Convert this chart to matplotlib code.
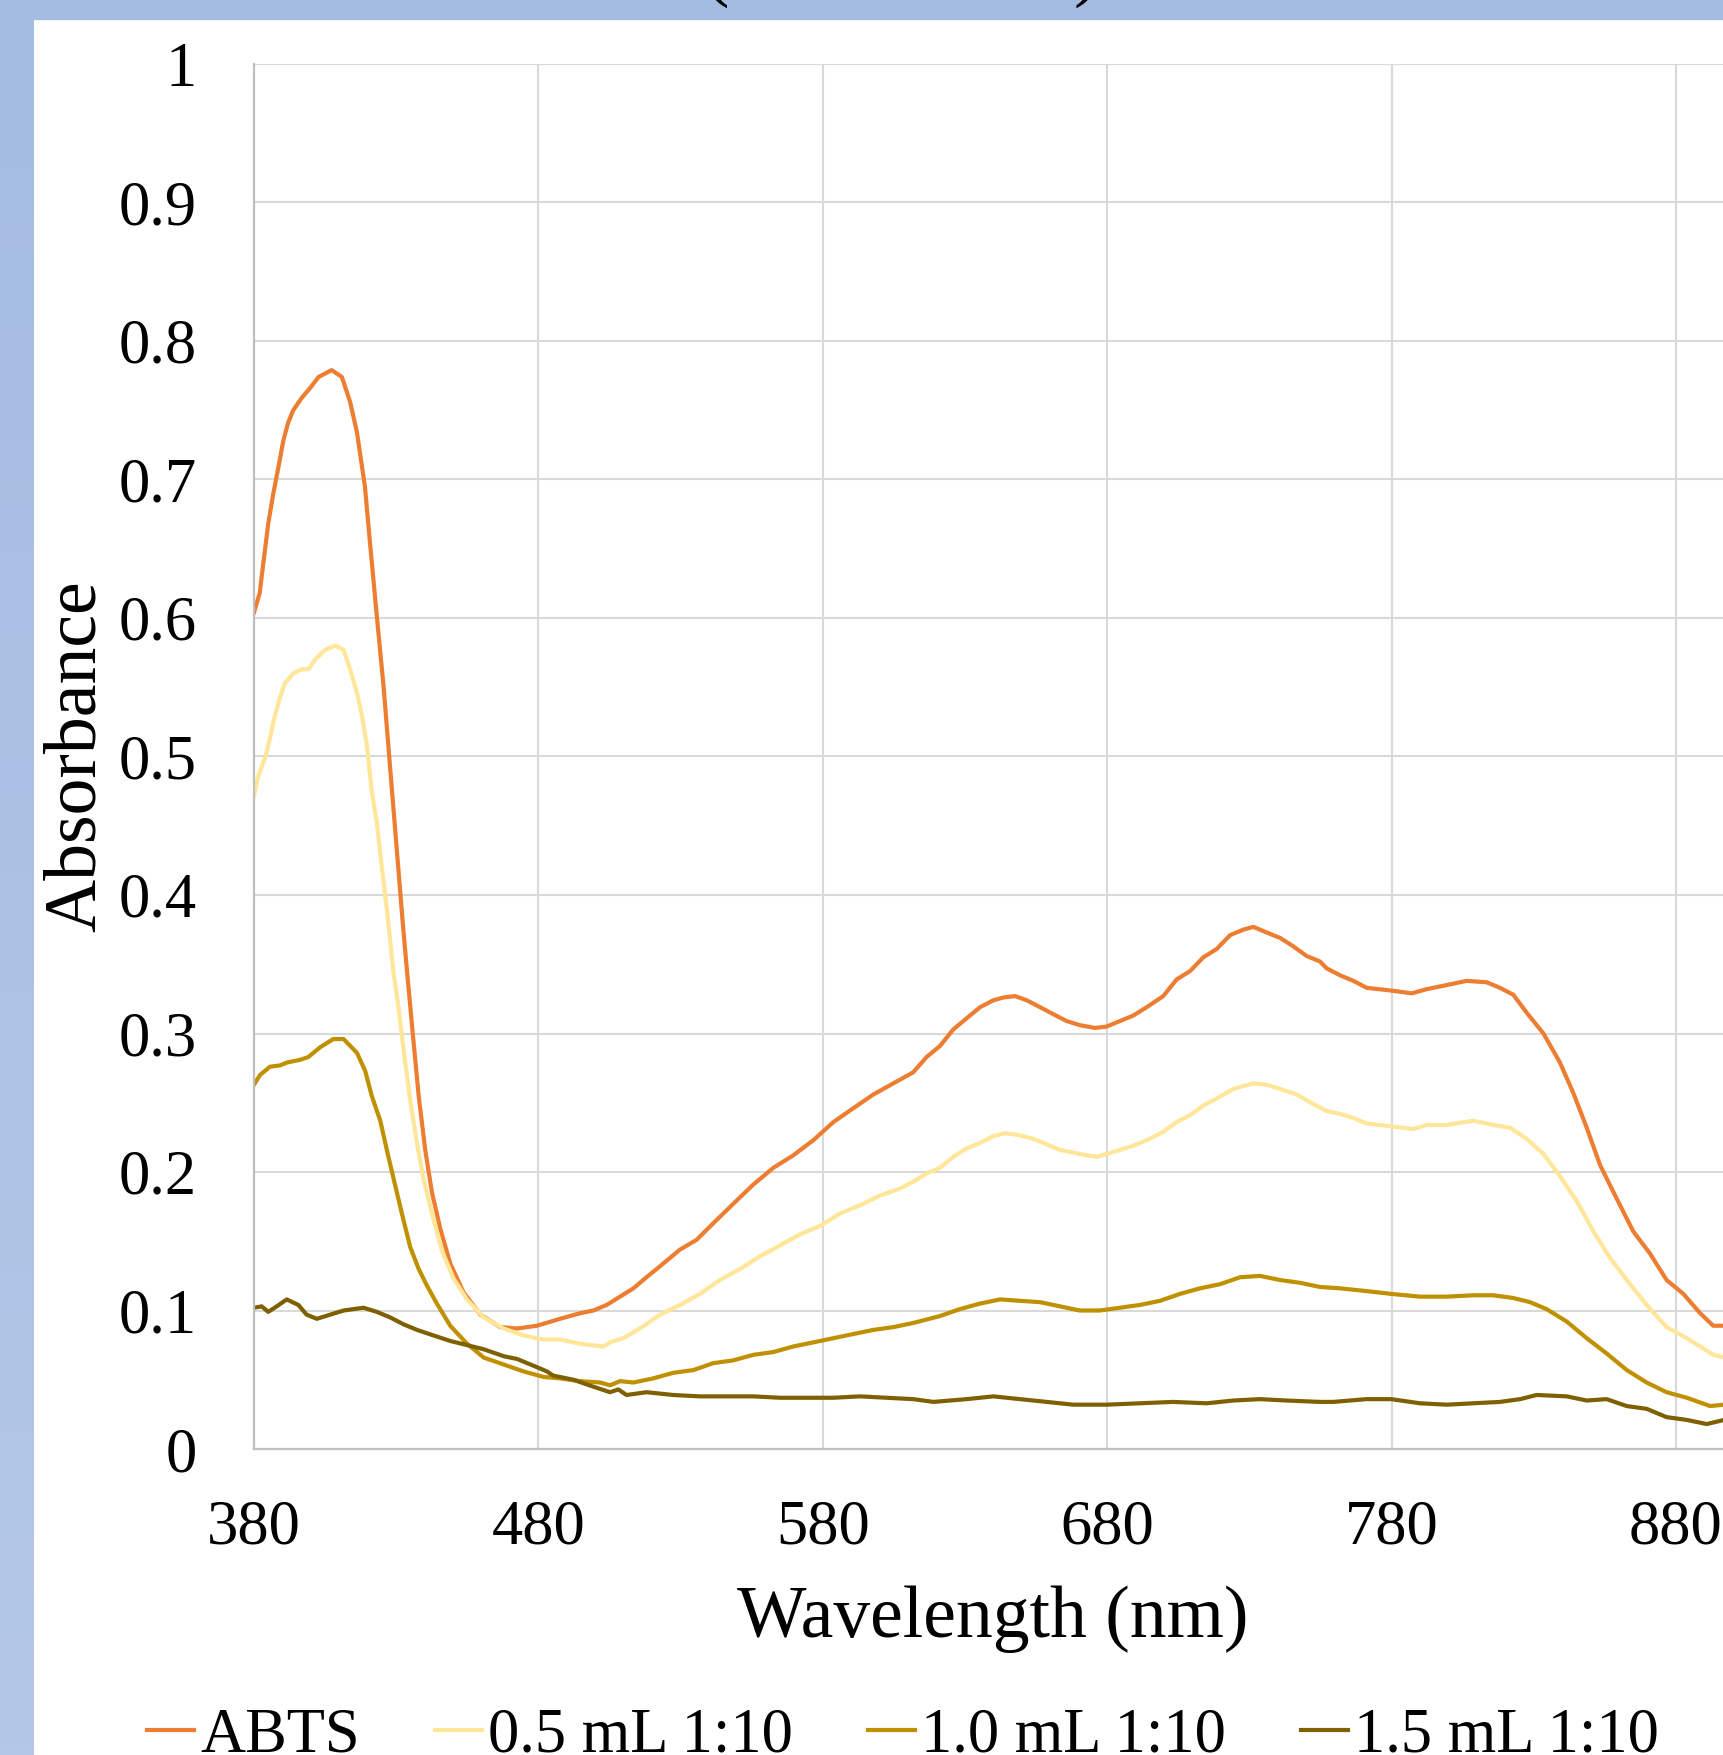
import matplotlib

matplotlib.use("Agg")

import matplotlib.pyplot as plt
import numpy as np
from matplotlib.patches import Rectangle
from matplotlib.ticker import FixedLocator, FuncFormatter, MultipleLocator


# (wavelength nm, absorbance)
abts_points = [
    (380, 0.604), (382, 0.618), (383.3, 0.640), (385, 0.668), (386.8, 0.690),
    (388.6, 0.709), (390.3, 0.728), (392, 0.741), (393.8, 0.750), (396.8, 0.759),
    (399.7, 0.766), (402.7, 0.774), (407.3, 0.779), (410.9, 0.774), (413.8, 0.756),
    (416.2, 0.734), (419, 0.695), (420.8, 0.654), (423.2, 0.601), (425.5, 0.552),
    (427.9, 0.491), (430.2, 0.433), (432.3, 0.380), (433.8, 0.345), (436.1, 0.294),
    (437.9, 0.255), (440.2, 0.216), (442.6, 0.185), (445.5, 0.159), (449, 0.134),
    (453.7, 0.113), (459.6, 0.097), (466.6, 0.088), (472.5, 0.087), (479.5, 0.089),
    (487.6, 0.094), (494.6, 0.098), (499.3, 0.100), (504, 0.104), (508.7, 0.110),
    (513.4, 0.116), (518, 0.124), (522.8, 0.132), (529.8, 0.144), (535.6, 0.151),
    (541.5, 0.163), (548.5, 0.177), (555.6, 0.191), (562.6, 0.203), (569.6, 0.212),
    (576.7, 0.223), (583.7, 0.236), (590.7, 0.246), (597.8, 0.256), (604.8, 0.264),
    (611.8, 0.272), (616.5, 0.283), (621.2, 0.291), (625.9, 0.303), (630.6, 0.311),
    (635.3, 0.319), (640, 0.324), (643.5, 0.326), (647.6, 0.327), (651.7, 0.324),
    (656.4, 0.319), (661, 0.314), (665.7, 0.309), (670.4, 0.306), (675.7, 0.304),
    (679.8, 0.305), (684.5, 0.309), (689.2, 0.313), (693.9, 0.319), (699.7, 0.327),
    (704.4, 0.339), (709.1, 0.345), (713.8, 0.355), (718.5, 0.361), (723.2, 0.371),
    (727.9, 0.375), (731.4, 0.377), (736, 0.373), (740.8, 0.369), (745.4, 0.363),
    (750.1, 0.356), (754.8, 0.352), (757.2, 0.347), (761.9, 0.342), (766.6, 0.338),
    (771.2, 0.333), (779.8, 0.331), (787.1, 0.329), (792.3, 0.332), (799.4, 0.335),
    (806.4, 0.338), (813.4, 0.337), (818.1, 0.333), (822.8, 0.328), (827.5, 0.315),
    (833.4, 0.300), (839.2, 0.279), (843.9, 0.257), (848.6, 0.232), (853.3, 0.205),
    (859.1, 0.181), (865, 0.157), (870.9, 0.141), (876.7, 0.122), (882.6, 0.112),
    (888.5, 0.098), (893.1, 0.089), (896.9, 0.089),
]

half_ml_points = [
    (380, 0.472), (381.5, 0.486), (383.9, 0.499), (385.6, 0.513), (387.4, 0.530),
    (389.2, 0.543), (390.9, 0.553), (393.8, 0.560), (396.8, 0.563), (399.1, 0.563),
    (401.5, 0.570), (405, 0.577), (408.5, 0.580), (411.5, 0.577), (413.8, 0.563),
    (416.2, 0.546), (417.9, 0.530), (419.7, 0.508), (421.4, 0.475), (423.2, 0.452),
    (425, 0.419), (426.7, 0.390), (429, 0.345), (430.8, 0.319), (432.6, 0.288),
    (434.9, 0.252), (437.3, 0.221), (439.6, 0.195), (442.6, 0.170), (446.1, 0.143),
    (450.2, 0.123), (454.9, 0.108), (460.8, 0.095), (467.8, 0.087), (474.8, 0.082),
    (481.9, 0.079), (487.6, 0.079), (494.6, 0.076), (502.8, 0.074), (505.2, 0.077),
    (509.9, 0.080), (515.7, 0.087), (522.8, 0.097), (529.8, 0.104), (536.8, 0.112),
    (543.8, 0.122), (550.9, 0.130), (557.9, 0.139), (564.9, 0.147), (572, 0.155),
    (579, 0.161), (586, 0.170), (593.1, 0.176), (600.1, 0.183), (607.1, 0.188),
    (611.8, 0.193), (616.5, 0.199), (621.2, 0.203), (625.9, 0.211), (630.6, 0.217),
    (635.3, 0.221), (640, 0.226), (644.1, 0.228), (648.2, 0.227), (654, 0.224),
    (658.7, 0.220), (663.4, 0.216), (668.1, 0.214), (672.8, 0.212), (676.3, 0.211),
    (679.8, 0.213), (684.5, 0.216), (689.2, 0.219), (693.9, 0.223), (699.7, 0.229),
    (704.4, 0.236), (709.1, 0.241), (713.8, 0.248), (718.5, 0.253), (724.3, 0.260),
    (731.4, 0.264), (736, 0.263), (740.8, 0.260), (746.6, 0.256), (752.5, 0.249),
    (757.2, 0.244), (761.9, 0.242), (766.6, 0.239), (771.2, 0.235), (779.8, 0.233),
    (787.7, 0.231), (792.3, 0.234), (799.4, 0.234), (808.7, 0.237), (815.8, 0.234),
    (821.6, 0.232), (827.5, 0.224), (833.4, 0.213), (839.2, 0.197), (845.1, 0.179),
    (851, 0.157), (856.8, 0.138), (862.7, 0.122), (869.7, 0.104), (876.7, 0.088),
    (883.8, 0.080), (888.5, 0.074), (893.1, 0.068), (896.9, 0.066),
]

one_ml_points = [
    (380, 0.263), (382.1, 0.270), (385.6, 0.276), (389.2, 0.277), (391.5, 0.279),
    (396.2, 0.281), (399.1, 0.283), (403.2, 0.290), (407.9, 0.296), (411.5, 0.296),
    (416.2, 0.286), (419.1, 0.273), (421.4, 0.255), (424.4, 0.237), (426.7, 0.216),
    (429.1, 0.195), (432, 0.170), (434.9, 0.146), (437.9, 0.130), (440.8, 0.118),
    (444.3, 0.105), (449, 0.089), (454.9, 0.076), (460.8, 0.066), (467.8, 0.061),
    (474.8, 0.056), (481.9, 0.052), (487.6, 0.051), (494.6, 0.049), (501.7, 0.048),
    (505.2, 0.046), (508.7, 0.049), (513.4, 0.048), (520.4, 0.051), (527.4, 0.055),
    (534.5, 0.057), (541.5, 0.062), (548.5, 0.064), (555.6, 0.068), (562.6, 0.070),
    (569.6, 0.074), (576.7, 0.077), (583.7, 0.080), (590.7, 0.083), (597.8, 0.086),
    (604.8, 0.088), (611.8, 0.091), (621.2, 0.096), (628.2, 0.101), (635.3, 0.105),
    (642.3, 0.108), (649.3, 0.107), (656.4, 0.106), (663.4, 0.103), (670.4, 0.100),
    (677.5, 0.100), (684.5, 0.102), (691.5, 0.104), (698.6, 0.107), (705.6, 0.112),
    (712.6, 0.116), (719.7, 0.119), (726.7, 0.124), (733.7, 0.125), (740.8, 0.122),
    (747.8, 0.120), (754.8, 0.117), (761.9, 0.116), (771.2, 0.114), (779.8, 0.112),
    (790, 0.110), (799.4, 0.110), (808.7, 0.111), (815.8, 0.111), (822.8, 0.109),
    (828.7, 0.106), (834.5, 0.101), (841.6, 0.092), (848.6, 0.080), (855.6, 0.069),
    (862.7, 0.057), (869.7, 0.048), (876.7, 0.041), (883.8, 0.037), (892, 0.031),
    (896.9, 0.032),
]

one_half_ml_points = [
    (380, 0.102), (382.7, 0.103), (385, 0.099), (388, 0.103), (391.5, 0.108),
    (395.6, 0.104), (398.5, 0.097), (402.1, 0.094), (406.8, 0.097), (411.5, 0.100),
    (418.5, 0.102), (423.2, 0.099), (427.9, 0.095), (432.6, 0.090), (437.3, 0.086),
    (443.1, 0.082), (449, 0.078), (454.9, 0.075), (460.8, 0.072), (467.8, 0.067),
    (472.5, 0.065), (478.4, 0.060), (483, 0.056), (485.2, 0.053), (492.3, 0.050),
    (499.3, 0.045), (505.2, 0.041), (508.1, 0.043), (511, 0.039), (518, 0.041),
    (527.4, 0.039), (536.8, 0.038), (546.2, 0.038), (555.6, 0.038), (564.9, 0.037),
    (574.3, 0.037), (583.7, 0.037), (593.1, 0.038), (602.4, 0.037), (611.8, 0.036),
    (618.9, 0.034), (630.6, 0.036), (640, 0.038), (649.3, 0.036), (658.7, 0.034),
    (668.1, 0.032), (679.8, 0.032), (691.5, 0.033), (703.2, 0.034), (715, 0.033),
    (724.3, 0.035), (733.7, 0.036), (743.1, 0.035), (754.8, 0.034), (759.5, 0.034),
    (771.2, 0.036), (779.8, 0.036), (790, 0.033), (799.4, 0.032), (808.7, 0.033),
    (818.1, 0.034), (825.2, 0.036), (831, 0.039), (841.6, 0.038), (848.6, 0.035),
    (855.6, 0.036), (862.7, 0.031), (869.7, 0.029), (876.7, 0.023), (883.8, 0.021),
    (890.8, 0.018), (896.9, 0.021),
]

series_labels = ["ABTS", "0.5 mL 1:10", "1.0 mL 1:10", "1.5 mL 1:10"]
series_points = [abts_points, half_ml_points, one_ml_points, one_half_ml_points]
series_colors = ["#ED7D31", "#FFE699", "#BF9000", "#7F6000"]
x_ticks = [380, 480, 580, 680, 780, 880, 980]

W, H = 1724, 1755
FONT = "Liberation Serif"
plt.rcParams["font.family"] = [FONT, "DejaVu Serif"]

fig = plt.figure(figsize=(W / 100, H / 100), dpi=100)
fig.patch.set_facecolor("white")

# blue frame around the cropped chart area
strip = fig.add_axes([0, 0, 34 / W, 1])
gradient = np.linspace(0, 1, 256).reshape(-1, 1)
strip.imshow(
    gradient,
    aspect="auto",
    cmap=matplotlib.colors.LinearSegmentedColormap.from_list("frame", ["#A4BCE1", "#B4C7E8"]),
)
strip.axis("off")
fig.patches.append(
    Rectangle((0, 1 - 19 / H), 1, 19 / H, transform=fig.transFigure, color="#A4BCE1", zorder=0)
)
# bottom of the title's parentheses, the rest is cropped off
fig.text(716 / W, 1 + 8 / H, "(", fontsize=55, ha="center", va="baseline")
fig.text(1086 / W, 1 + 8 / H, ")", fontsize=55, ha="center", va="baseline")

x_min, x_max = x_ticks[0], x_ticks[-1]
left = 254 / W
bottom = 1 - 1449 / H
height = (1449 - 64) / H
width = (x_max - x_min) * 2.844 / W
ax = fig.add_axes([left, bottom, width, height])
ax.set_facecolor("white")

for label, points, color in zip(series_labels, series_points, series_colors):
    nm, absorbance = zip(*points)
    ax.plot(nm, absorbance, color=color, linewidth=3.0, label=label, solid_joinstyle="round")

ax.set_xlim(x_min, x_max)
ax.set_ylim(0, 1)
ax.xaxis.set_major_locator(FixedLocator(x_ticks))
ax.yaxis.set_major_locator(MultipleLocator(0.1))
ax.yaxis.set_major_formatter(FuncFormatter(lambda v, _: f"{v:g}"))
ax.grid(True, color="#D9D9D9", linewidth=1.5)
ax.set_axisbelow(True)
for name, spine in ax.spines.items():
    if name in ("left", "bottom"):
        spine.set_color("#BFBFBF")
        spine.set_linewidth(1.6)
    else:
        spine.set_visible(False)
ax.tick_params(axis="both", length=0, labelsize=45, colors="black")
ax.tick_params(axis="y", pad=41)
ax.tick_params(axis="x", pad=36)

fig.text(77 / W, 1 - 756 / H, "Absorbance", rotation=90, fontsize=53, ha="center", va="center")
fig.text(993 / W, 1 - 1637 / H, "Wavelength (nm)", fontsize=53, ha="center", va="baseline")

fig.legend(
    loc="lower center",
    bbox_to_anchor=(903 / W, -0.006),
    ncol=4,
    frameon=False,
    fontsize=45,
    handlelength=0.75,
    handletextpad=0.1,
    columnspacing=1.2,
    borderpad=0,
    borderaxespad=0,
)

fig.savefig("out.png", dpi=100)
plt.close(fig)
